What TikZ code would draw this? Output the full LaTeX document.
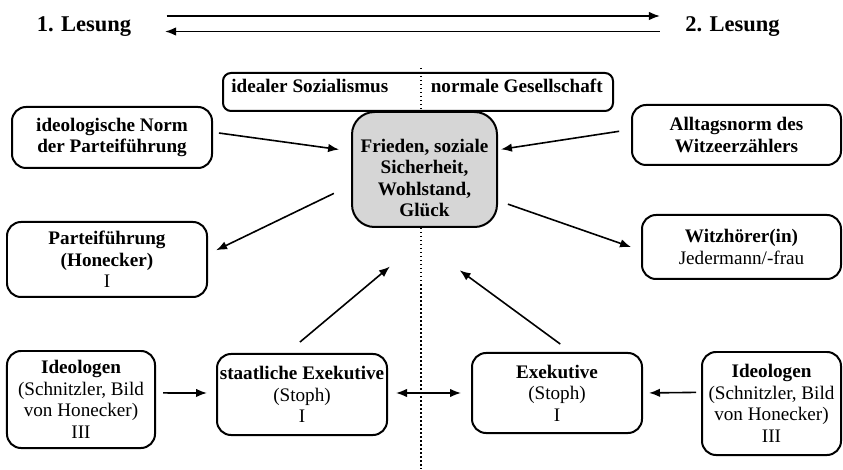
\documentclass[tikz,border=0pt]{standalone}
\usepackage{fontspec}
\setmainfont{Liberation Serif}
\usetikzlibrary{arrows.meta}
\tikzset{
  kasten/.style={draw, line width=0.040000cm, rounded corners=0.280000cm, inner sep=0pt, align=center},
  pfeil/.style={line width=0.032000cm, -{Latex[length=0.220000cm,width=0.170000cm]}},
  doppelpfeil/.style={line width=0.032000cm, {Latex[length=0.220000cm,width=0.170000cm]}-{Latex[length=0.220000cm,width=0.170000cm]}},
  punkte/.style={line width=0.022000cm, dash pattern=on 0.030000cm off 0.050000cm},
  lesung/.style={inner sep=0pt, font=\fontsize{12.8}{15}\selectfont\bfseries},
}
\begin{document}
\begin{tikzpicture}
                \useasboundingbox (0,0) rectangle (16.860000,9.380000);
                {\fontsize{10.9}{12.2}\selectfont

                % Drawing dotted line
                \draw [punkte] (8.420000,8.020000) -- (8.420000,0.000000);%

                % Marking readings
                \node [lesung, anchor=base] (lesungA) at (1.680000,8.750000) {1. Lesung};%
                \node [lesung, anchor=base] (lesungB) at (14.650000,8.750000) {2. Lesung};%
                \draw [pfeil, shorten <=0.700000cm, shorten >=0.500000cm] ([yshift=0.310000cm]lesungA.base east) -- ([yshift=0.310000cm]lesungB.base west);%
                \draw [pfeil, shorten <=0.500000cm, shorten >=0.670000cm] (lesungB.base west) -- (lesungA.base east);%

                % Drawing box idealer Sozialismus / normale Gesellschaft
                \node [kasten, rounded corners=0.160000cm, minimum width=7.800000cm, minimum height=0.760000cm] (rahmen) at (8.360000,7.540000) {};%
                \node [inner sep=0pt, anchor=base west, font=\bfseries] (ideal) at ([xshift=0.180000cm,yshift=-0.020000cm]rahmen.west) {idealer Sozialismus};%
                \node [inner sep=0pt, anchor=base east, font=\bfseries] (normal) at ([xshift=-0.220000cm,yshift=-0.020000cm]rahmen.east) {normale Gesellschaft};%

                % Drawing box Z
                \node [kasten, fill=black!16, rounded corners=0.450000cm, minimum width=2.900000cm, minimum height=2.300000cm, font=\bfseries] (zentrum) at (8.490000,5.990000) {\raisebox{-0.210000cm}[\height][\depth]{\begin{tabular}{@{}c@{}}Frieden, soziale\\Sicherheit,\\Wohlstand,\\Glück\end{tabular}}};%

                % Drawing boxes left
                \node [kasten, minimum width=4.000000cm, minimum height=1.220000cm, font=\bfseries] (norm) at (2.240000,6.630000) {ideologische Norm\\der Parteiführung};%
                \node [kasten, minimum width=4.000000cm, minimum height=1.500000cm] (parteifuehrung) at (2.140000,4.190000) {\textbf{Parteiführung}\\\textbf{(Honecker)}\\I};%
                \node [kasten, minimum width=2.960000cm, minimum height=1.940000cm] (ideologenL) at (1.620000,1.390000) {\textbf{Ideologen}\\(Schnitzler, Bild\\von Honecker)\\III};%
                \node [kasten, minimum width=3.400000cm, minimum height=1.620000cm] (staatExek) at (6.040000,1.490000) {\textbf{staatliche Exekutive}\\(Stoph)\\I};%

                % Drawing boxes right
                \node [kasten, minimum width=4.180000cm, minimum height=1.200000cm, font=\bfseries] (alltag) at (14.730000,6.680000) {Alltagsnorm des\\Witzeerzählers};%
                \node [kasten, minimum width=3.980000cm, minimum height=1.280000cm] (witz) at (14.830000,4.440000) {\textbf{Witzhörer(in)}\\Jedermann/-frau};%
                \node [kasten, minimum width=3.400000cm, minimum height=1.600000cm] (exek) at (11.140000,1.520000) {\textbf{Exekutive}\\(Stoph)\\I};%
                \node [kasten, minimum width=2.780000cm, minimum height=2.060000cm] (ideologenR) at (15.430000,1.310000) {\textbf{Ideologen}\\(Schnitzler, Bild\\von Honecker)\\III};%

                % Drawing arrows to and from Z
                \draw [pfeil, shorten <=0.120000cm, shorten >=0.240000cm] (norm.3) -- (zentrum.166);%
                \draw [pfeil, shorten <=0.240000cm, shorten >=0.060000cm] (alltag.177) -- (zentrum.15);%
                \draw [pfeil, shorten <=0.380000cm, shorten >=0.180000cm] (zentrum.192) -- (parteifuehrung.3);%
                \draw [pfeil, shorten <=0.210000cm, shorten >=0.210000cm] (zentrum.337) -- (witz.182);%
                \draw [pfeil, shorten <=0.340000cm, shorten >=1.200000cm] (staatExek.110) -- (zentrum.281);%
                \draw [pfeil, shorten <=0.270000cm, shorten >=1.430000cm] (exek.71) -- (zentrum.249);%

                % Drawing arrows in bottom row
                \draw [pfeil, shorten <=0.140000cm, shorten >=0.180000cm] (ideologenL.5) -- (staatExek.179);%
                \draw [doppelpfeil, shorten <=0.160000cm, shorten >=0.200000cm] (staatExek.1) -- (exek.west);%
                \draw [pfeil, shorten <=0.100000cm, shorten >=0.120000cm] (ideologenR.171) -- (exek.east);%
                }
                \end{tikzpicture}
\end{document}
